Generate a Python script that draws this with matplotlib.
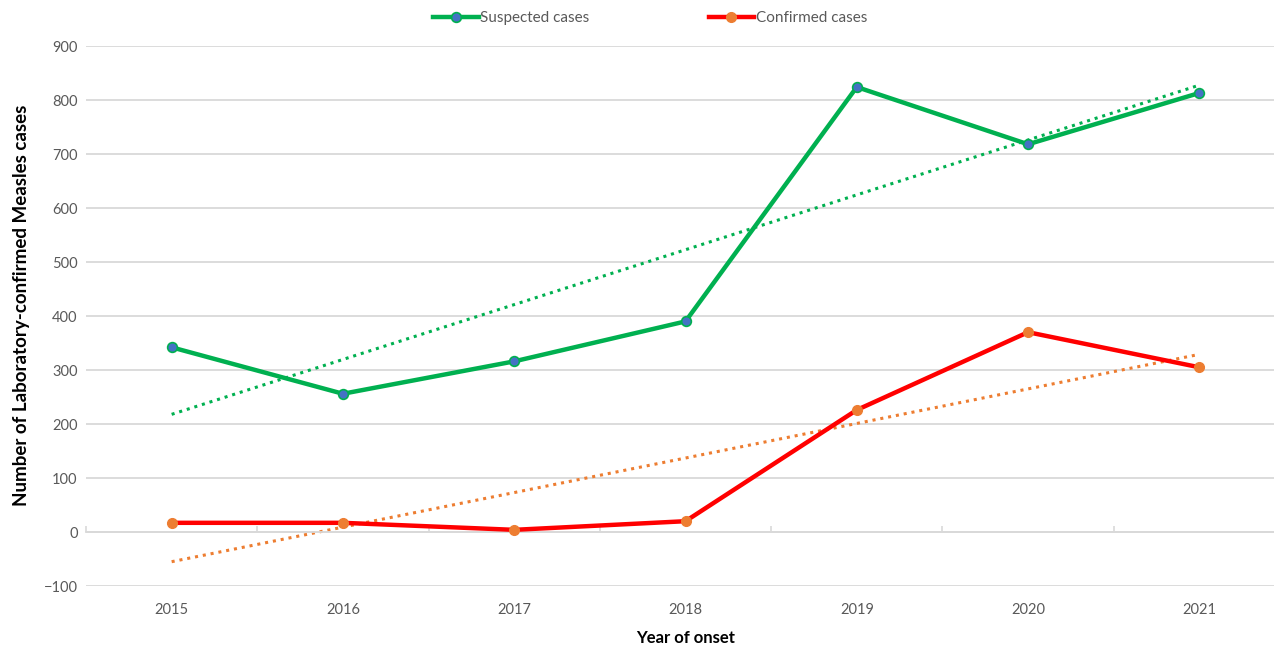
import matplotlib
matplotlib.use('Agg')
import matplotlib.pyplot as plt
import numpy as np

plt.rcParams['font.family'] = ['Lato', 'DejaVu Sans']

# data
years = ['2015', '2016', '2017', '2018', '2019', '2020', '2021']
suspected = [342, 256, 316, 390, 824, 718, 813]
confirmed = [17, 17, 4, 20, 226, 370, 305]

GREEN = '#00B050'
BLUE = '#4472C4'
RED = '#FF0000'
ORANGE = '#ED7D31'
GRID = '#D9D9D9'
TXT = '#595959'

fig = plt.figure(figsize=(12.74, 6.49), dpi=100)
ax = fig.add_axes([86 / 1274, 1 - 586 / 649, (1285 - 86) / 1274, 540 / 649])

x = np.arange(len(years))

# linear trendlines (least squares, like Excel)
for vals, col in ((suspected, GREEN), (confirmed, ORANGE)):
    k, b = np.polyfit(x, vals, 1)
    ax.plot(x, k * x + b, color=col, lw=2.2, linestyle=(0, (1, 1.6)), zorder=2)

ax.plot(x, suspected, color=GREEN, lw=3.2, marker='o', ms=7,
        mfc=BLUE, mec=GREEN, mew=1.2, label='Suspected cases', zorder=3)
ax.plot(x, confirmed, color=RED, lw=3.2, marker='o', ms=7,
        mfc=ORANGE, mec=ORANGE, mew=1.0, label='Confirmed cases', zorder=3)

ax.set_xlim(-0.5, len(years) - 0.5)
ax.set_ylim(-100, 900)
ax.set_yticks(np.arange(-100, 901, 100))
ax.grid(axis='y', color=GRID, lw=1.3)
ax.set_axisbelow(True)

for s in ('top', 'right', 'left'):
    ax.spines[s].set_visible(False)
ax.spines['bottom'].set_position(('data', 0))
ax.spines['bottom'].set_color(GRID)
ax.spines['bottom'].set_linewidth(1.3)

ax.set_xticks(x)
ax.set_xticklabels(years)
ax.set_xticks(np.arange(-0.5, len(years), 1), minor=True)
ax.tick_params(axis='x', which='major', length=0, pad=51, labelsize=10.5, labelcolor=TXT)
ax.tick_params(axis='x', which='minor', direction='in', length=4, color=GRID, width=1.2)
ax.tick_params(axis='y', length=0, pad=6, labelsize=10.5, labelcolor=TXT)

ax.set_ylabel('Number of Laboratory-confirmed Measles cases', fontsize=13.5,
              fontweight='bold', color='black')
ax.yaxis.set_label_coords(-56 / 1199, 0.52)
ax.set_xlabel('Year of onset', fontsize=12, fontweight='bold', color='black')
ax.xaxis.set_label_coords(0.5, -0.082)

fig.legend(loc='center', bbox_to_anchor=(650 / 1274, 1 - 18 / 649), ncol=2,
           frameon=False, fontsize=11, labelcolor=TXT, handlelength=3.0,
           handletextpad=0.1, columnspacing=7.8)

fig.savefig('out.png', dpi=100)
